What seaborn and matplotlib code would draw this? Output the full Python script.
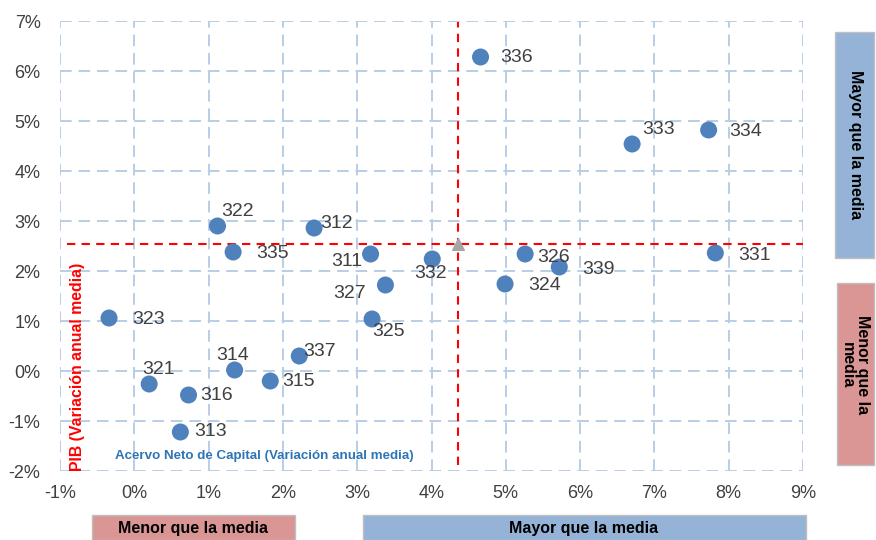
import matplotlib
matplotlib.use("Agg")
import matplotlib.pyplot as plt
import matplotlib.patches as mpatches
import matplotlib.ticker as mtick
import seaborn as sns
import pandas as pd

# datos (% variacion anual media)
codigos = ["336", "333", "334", "322", "312", "335", "311", "332", "326", "339", "331",
           "324", "327", "325", "323", "337", "314", "315", "321", "316", "313"]
acervo = [4.66, 6.70, 7.73, 1.12, 2.42, 1.33, 3.18, 4.01, 5.26, 5.72, 7.82,
          4.99, 3.38, 3.20, -0.34, 2.22, 1.35, 1.83, 0.20, 0.73, 0.62]
pib = [6.28, 4.54, 4.82, 2.90, 2.86, 2.38, 2.34, 2.24, 2.34, 2.08, 2.36,
       1.74, 1.72, 1.04, 1.06, 0.30, 0.02, -0.20, -0.26, -0.48, -1.22]
media_acervo = 4.35
media_pib = 2.55

# desplazamiento de cada etiqueta (pixeles) y alineacion
offsets = {
    "336": (20, -1, "left"), "333": (10, 14, "left"), "334": (21, -1, "left"),
    "322": (4, 15, "left"), "312": (6, 5, "left"), "335": (23, -1, "left"),
    "311": (-8, -8, "right"), "332": (-2, -14, "center"), "326": (12, -3, "left"),
    "339": (23, -2, "left"), "331": (23, -2, "left"), "324": (23, -1, "left"),
    "327": (-20, -9, "right"), "325": (0, -12, "left"), "323": (23, -1, "left"),
    "337": (4, 5, "left"), "314": (-2, 15, "center"), "315": (12, -1, "left"),
    "321": (9, 14, "center"), "316": (12, -1, "left"), "313": (14, 0, "left"),
}

df = pd.DataFrame({"codigo": codigos, "acervo": acervo, "pib": pib})

sns.set_style("white")
plt.rcParams["font.family"] = ["Liberation Sans", "DejaVu Sans"]

fig = plt.figure(figsize=(8.76, 5.4), dpi=100)
ax = fig.add_axes([60 / 876, 69 / 540, 743 / 876, 450 / 540])

grid_col = "#b9cde5"
ax.set_xlim(-1, 9)
ax.set_ylim(-2, 7)
ax.set_xticks(range(-1, 10))
ax.set_yticks(range(-2, 8))
ax.grid(True, color=grid_col, linestyle=(0, (6, 3.5)), linewidth=1.4)
ax.set_axisbelow(True)
for s in ax.spines.values():
    s.set_visible(False)
ax.xaxis.set_major_formatter(mtick.FuncFormatter(lambda v, p: f"{v:.0f}%"))
ax.yaxis.set_major_formatter(mtick.FuncFormatter(lambda v, p: f"{v:.0f}%"))
ax.tick_params(axis="both", length=0, labelsize=13, colors="#404040")
ax.tick_params(axis="y", pad=14)
ax.tick_params(axis="x", pad=10)

# lineas de la media
ax.axhline(media_pib, xmin=0.01, xmax=1.0, color="red", linestyle=(0, (4, 3)), linewidth=1.5, zorder=2)
ax.axvline(media_acervo, ymin=0.013, ymax=0.998, color="red", linestyle=(0, (4, 3)), linewidth=1.5, zorder=2)

sns.scatterplot(data=df, x="acervo", y="pib", ax=ax, s=150, color="#4f81bd",
                edgecolor="none", zorder=3, legend=False)
ax.scatter([media_acervo], [media_pib], marker="^", s=70, color="#a6a6a6", zorder=3)

for c, x, y in zip(codigos, acervo, pib):
    dx, dy, ha = offsets[c]
    ax.annotate(c, (x, y), xytext=(dx, dy), textcoords="offset pixels",
                ha=ha, va="center", fontsize=14, color="#404040", zorder=4)

ax.set_xlabel("")
ax.set_ylabel("")

# titulos de ejes dentro del area
ax.text(-0.76, -2.0, "PIB (Variación anual media)", rotation=90, color="red",
        fontsize=11.4, fontweight="bold", ha="center", va="bottom")
ax.text(0.275, 0.033, "Acervo Neto de Capital (Variación anual media)",
        transform=ax.transAxes, color="#2e75b6", fontsize=9.6, fontweight="bold",
        ha="center", va="center")

# cajas laterales
azul = "#95b3d7"
rosa = "#da9694"
borde = "#bfbfbf"
fig.patches.append(mpatches.Rectangle((835 / 876, (540 - 258) / 540), 39 / 876, 226 / 540,
                                      transform=fig.transFigure, facecolor=azul, edgecolor=borde, lw=1))
fig.text(855 / 876, (540 - 145) / 540, "Mayor que la media", rotation=-90, ha="center", va="center",
         fontsize=11.5, fontweight="bold", color="black")
fig.patches.append(mpatches.Rectangle((837 / 876, (540 - 465) / 540), 37 / 876, 182 / 540,
                                      transform=fig.transFigure, facecolor=rosa, edgecolor=borde, lw=1))
fig.text(855 / 876, (540 - 365) / 540, "Menor que la\nmedia", rotation=-90, ha="center", va="center",
         multialignment="center", fontsize=11.5, fontweight="bold", color="black", linespacing=0.95)

fig.patches.append(mpatches.Rectangle((92 / 876, 0), 203 / 876, 25 / 540,
                                      transform=fig.transFigure, facecolor=rosa, edgecolor=borde, lw=1))
fig.text(193 / 876, 11 / 540, "Menor que la media", ha="center", va="center",
         fontsize=11.5, fontweight="bold", color="black")
fig.patches.append(mpatches.Rectangle((363 / 876, 0), 443 / 876, 25 / 540,
                                      transform=fig.transFigure, facecolor=azul, edgecolor=borde, lw=1))
fig.text(584 / 876, 11 / 540, "Mayor que la media", ha="center", va="center",
         fontsize=11.5, fontweight="bold", color="black")

fig.savefig("out.png", dpi=100)
